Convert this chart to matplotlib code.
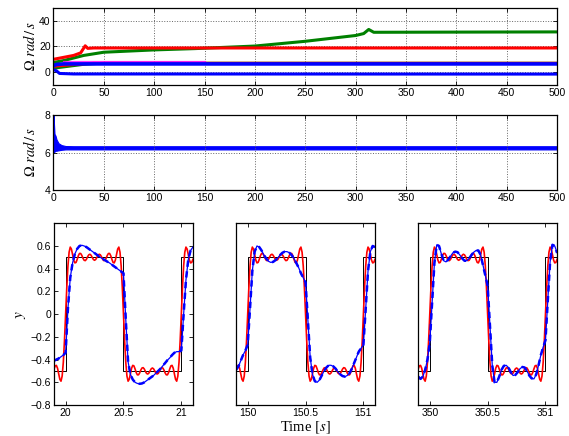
import matplotlib
matplotlib.use("Agg")
import matplotlib.pyplot as plt
import numpy as np

plt.rcParams["font.family"] = ["Liberation Sans", "DejaVu Sans"]
plt.rcParams["mathtext.fontset"] = "stix"
plt.rcParams["font.size"] = 7.5

# ---- top panel: frequency estimates (rad/s) over the whole run ----
GREEN_T = [0, 10, 30, 50, 100, 140, 200, 250, 300, 308, 313, 318, 500]
GREEN_V = [7.5, 9, 13, 15.5, 17.3, 18.3, 20.3, 24, 28.5, 30, 33.2, 31, 31.3]
GREEN2_T = [0, 10, 30, 50, 500]
GREEN2_V = [3.0, 4.0, 6.0, 7.0, 7.0]
RED_T = [0, 10, 20, 27, 31.5, 34, 40, 500]
RED_V = [10, 11.5, 13, 15, 20.5, 18.5, 18.8, 18.8]
RED2_T = [0, 15, 40, 500]
RED2_V = [4.5, 5.5, 7.0, 7.0]
MAGENTA_T = [10, 150]
MAGENTA_V = [7.6, 7.6]
BLUE_UP_T = [0, 3, 10, 500]
BLUE_UP_V = [5.0, 6.0, 6.4, 6.4]
BLUE_LOW_T = [0, 3, 6, 20, 500]
BLUE_LOW_V = [2.0, 1.0, -1.0, -1.4, -1.5]

# ---- middle panel: envelope of the retained estimate ----
MID_T = [0, 1, 2, 3, 5, 8, 12, 20, 500]
MID_UP = [8.0, 7.0, 6.9, 6.7, 6.5, 6.4, 6.35, 6.34, 6.34]
MID_LO = [6.0, 6.05, 6.1, 6.1, 6.12, 6.15, 6.17, 6.17, 6.17]

# ---- bottom panels: one period of the signals ----
WINDOW_STARTS = [20, 150, 350]
WINDOW_TICKS = [["20", "20.5", "21"], ["150", "150.5", "151"], ["350", "350.5", "351"]]

SQUARE_PHASE = [-0.10, 0.0, 0.0, 0.5, 0.5, 1.0, 1.0, 1.10]
SQUARE_LEVEL = [-0.5, -0.5, 0.5, 0.5, -0.5, -0.5, 0.5, 0.5]

# red reference, phase -0.10 .. 1.10 in steps of 0.01
RED_Y = [
    -0.482, -0.455, -0.451, -0.476, -0.525, -0.573, -0.590, -0.545, -0.424, -0.233,
    0.000, 0.233, 0.424, 0.545, 0.590, 0.573, 0.525, 0.476, 0.451, 0.455,
    0.482, 0.514, 0.534, 0.534, 0.517, 0.492, 0.474, 0.471, 0.483, 0.505,
    0.522, 0.527, 0.518, 0.499, 0.481, 0.474, 0.481, 0.499, 0.518, 0.527,
    0.522, 0.505, 0.483, 0.471, 0.474, 0.492, 0.517, 0.534, 0.534, 0.514,
    0.482, 0.455, 0.451, 0.476, 0.525, 0.573, 0.590, 0.545, 0.424, 0.233,
    0.000, -0.233, -0.424, -0.545, -0.590, -0.573, -0.525, -0.476, -0.451, -0.455,
    -0.482, -0.514, -0.534, -0.534, -0.517, -0.492, -0.474, -0.471, -0.483, -0.505,
    -0.522, -0.527, -0.518, -0.499, -0.481, -0.474, -0.481, -0.499, -0.518, -0.527,
    -0.522, -0.505, -0.483, -0.471, -0.474, -0.492, -0.517, -0.534, -0.534, -0.514,
    -0.482, -0.455, -0.451, -0.476, -0.525, -0.573, -0.590, -0.545, -0.424, -0.233,
    0.000, 0.233, 0.424, 0.545, 0.590, 0.573, 0.525, 0.476, 0.451, 0.455, 0.482,
]

# blue output, phase -0.10 .. 1.10 in steps of 0.02, one list per window
BLUE_Y_20 = [
    -0.41, -0.40, -0.39, -0.375, -0.36, -0.34,
    0.05, 0.32, 0.45, 0.53, 0.575, 0.60, 0.606, 0.60, 0.59, 0.575, 0.56, 0.545, 0.53, 0.515,
    0.50, 0.487, 0.475, 0.462, 0.45, 0.435, 0.42, 0.405, 0.39, 0.375, 0.36,
    -0.05, -0.42, -0.53, -0.575, -0.60, -0.61, -0.613, -0.61, -0.60, -0.585, -0.57, -0.555,
    -0.54, -0.52, -0.50, -0.48, -0.455, -0.43, -0.405, -0.385, -0.36, -0.34, -0.33, -0.33, -0.32,
    0.0, 0.30, 0.48, 0.56, 0.59,
]
BLUE_Y_150 = [
    -0.49, -0.46, -0.41, -0.36, -0.32, -0.27,
    0.05, 0.38, 0.55, 0.60, 0.59, 0.56, 0.52, 0.49, 0.465, 0.455, 0.46, 0.475, 0.495, 0.52,
    0.54, 0.55, 0.55, 0.54, 0.52, 0.49, 0.45, 0.41, 0.36, 0.32, 0.28,
    -0.05, -0.38, -0.53, -0.59, -0.60, -0.58, -0.54, -0.50, -0.47, -0.45, -0.45, -0.46,
    -0.48, -0.51, -0.53, -0.545, -0.55, -0.54, -0.52, -0.48, -0.43, -0.38, -0.33, -0.30, -0.27,
    0.05, 0.38, 0.55, 0.60, 0.59,
]
BLUE_Y_350 = [
    -0.55, -0.57, -0.55, -0.49, -0.40, -0.25,
    0.10, 0.45, 0.61, 0.60, 0.53, 0.47, 0.46, 0.48, 0.51, 0.54, 0.55, 0.545, 0.52, 0.49,
    0.47, 0.47, 0.49, 0.52, 0.545, 0.56, 0.56, 0.52, 0.43, 0.34, 0.25,
    -0.10, -0.45, -0.60, -0.60, -0.55, -0.49, -0.455, -0.45, -0.47, -0.51, -0.54, -0.535,
    -0.51, -0.48, -0.465, -0.47, -0.50, -0.54, -0.565, -0.57, -0.53, -0.45, -0.36, -0.29, -0.23,
    0.12, 0.46, 0.61, 0.60, 0.54,
]
BLUE_WINDOWS = [BLUE_Y_20, BLUE_Y_150, BLUE_Y_350]

PHASE_FINE = np.round(np.arange(len(RED_Y)) * 0.01 - 0.10, 2)
PHASE_COARSE = np.round(np.arange(len(BLUE_Y_20)) * 0.02 - 0.10, 2)

OMEGA_LABEL = r"$\Omega\ rad\,/\,s$"


def matlab_box(ax):
    ax.tick_params(direction="in", top=True, right=True, length=3, width=0.6, pad=2)
    for sp in ax.spines.values():
        sp.set_linewidth(0.9)


fig = plt.figure(figsize=(5.69, 4.36), dpi=100)

# top panel
ax1 = fig.add_axes([0.094, 0.805, 0.885, 0.177])
ax1.plot(GREEN2_T, GREEN2_V, color="green", lw=2.0)
ax1.plot(RED2_T, RED2_V, color="red", lw=2.0)
ax1.plot(GREEN_T, GREEN_V, color="green", lw=2.2)
ax1.plot(RED_T, RED_V, color="red", lw=2.2)
ax1.plot(MAGENTA_T, MAGENTA_V, color="magenta", lw=1.6, alpha=0.8)
ax1.plot(BLUE_LOW_T, BLUE_LOW_V, color="blue", lw=2.2)
ax1.plot(BLUE_UP_T, BLUE_UP_V, color="blue", lw=2.6)
ax1.set_xlim(0, 500)
ax1.set_ylim(-10, 50)
ax1.set_xticks(range(0, 501, 50))
ax1.set_yticks([0, 20, 40])
ax1.grid(True, linestyle=":", color="0.4", lw=0.7)
ax1.set_ylabel(OMEGA_LABEL, fontsize=10.5, labelpad=1)
matlab_box(ax1)

# middle panel
ax2 = fig.add_axes([0.094, 0.564, 0.885, 0.172])
ax2.fill_between(MID_T, MID_LO, MID_UP, color="blue", lw=0.8)
ax2.set_xlim(0, 500)
ax2.set_ylim(4, 8)
ax2.set_xticks(range(0, 501, 50))
ax2.set_yticks([4, 6, 8])
ax2.grid(True, linestyle=":", color="0.4", lw=0.7)
ax2.set_ylabel(OMEGA_LABEL, fontsize=10.5, labelpad=5)
matlab_box(ax2)

# bottom panels
lefts = [0.095, 0.415, 0.735]
for i, (start, labels, blue_y) in enumerate(zip(WINDOW_STARTS, WINDOW_TICKS, BLUE_WINDOWS)):
    ax = fig.add_axes([lefts[i], 0.071, 0.244, 0.417])
    ax.plot(start + np.array(SQUARE_PHASE), SQUARE_LEVEL, color="black", lw=0.7)
    ax.plot(start + PHASE_FINE, RED_Y, color="red", lw=1.2)
    ax.plot(start + PHASE_COARSE, blue_y, color="blue", lw=0.9)
    ax.plot(start + PHASE_COARSE, blue_y, color="blue", lw=1.8, dashes=(2.5, 1.8))
    ax.set_xlim(start - 0.1, start + 1.1)
    ax.set_ylim(-0.8, 0.8)
    ax.set_xticks([start, start + 0.5, start + 1])
    ax.set_xticklabels(labels)
    if i == 0:
        ax.set_yticks([-0.8, -0.6, -0.4, -0.2, 0, 0.2, 0.4, 0.6])
        ax.set_yticklabels(["\u22120.8", "\u22120.6", "\u22120.4", "\u22120.2", "0", "0.2", "0.4", "0.6"])
        ax.set_ylabel(r"$y$", fontsize=11, labelpad=2)
    else:
        ax.set_yticks([])
    if i == 1:
        ax.set_xlabel(r"Time $[s]$", fontsize=10.5, family="Liberation Serif", labelpad=1)
    matlab_box(ax)

fig.savefig("out.png", dpi=100)
